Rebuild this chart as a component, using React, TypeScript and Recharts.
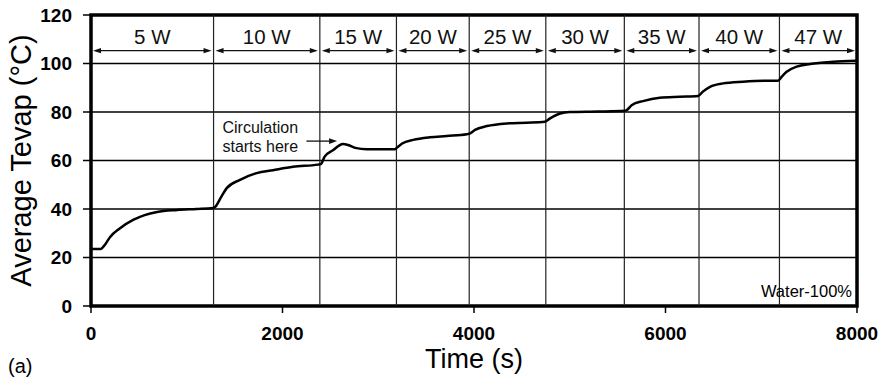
import { LineChart, Line, XAxis, YAxis, CartesianGrid, ReferenceLine, ReferenceArea } from 'recharts';

// time (s) and average evaporator temperature (°C)
const times = [
  0, 100, 150, 200, 300, 440, 560, 690, 900, 1100, 1275,
  1300, 1360, 1420, 1556, 1730, 1900, 2110, 2370, 2400,
  2440, 2530, 2630, 2685, 2760, 2880, 3170,
  3200, 3250, 3365, 3540, 3715, 3925,
  3960, 4010, 4135, 4345, 4550, 4740,
  4795, 4900, 5000, 5300, 5575,
  5595, 5650, 5765, 5940, 6150, 6340,
  6390, 6465, 6600, 6810, 7060, 7175,
  7215, 7265, 7370, 7510, 7750, 7990,
];
const avgTevap = [
  23.5, 23.5, 25.5, 28.5, 32, 35.5, 37.5, 38.8, 39.6, 40, 40.4,
  41, 45, 48.7, 52, 54.8, 56, 57.4, 58.3, 58.5,
  61.6, 64.3, 66.8, 66.4, 65.2, 64.6, 64.6,
  65.5, 67, 68.5, 69.6, 70.1, 70.8,
  71.2, 72.6, 74.2, 75.3, 75.6, 76,
  77.4, 79.4, 80, 80.2, 80.5,
  80.8, 82.9, 84.5, 85.9, 86.3, 86.6,
  88.4, 90.4, 91.8, 92.5, 92.9, 92.9,
  94.6, 96.6, 98.7, 99.8, 100.7, 101.1,
];

// heater power steps
const stepEdges = [0, 1280, 2390, 3190, 3950, 4750, 5570, 6350, 7190, 8000];
const stepLabels = ['5 W', '10 W', '15 W', '20 W', '25 W', '30 W', '35 W', '40 W', '47 W'];
const arrowLevel = 105.3;

// "Circulation starts here" pointer (time from / to, temperature)
const noteFrom = 2250;
const noteTo = 2570;
const noteLevel = 68;
const noteLines = ['Circulation', 'starts here'];

const xTicks = [0, 2000, 4000, 6000, 8000];
const yTicks = [0, 20, 40, 60, 80, 100, 120];

const data = times.map((t, i) => ({ t, v: avgTevap[i] }));

const FONT = "'Liberation Sans', Arial, Helvetica, sans-serif";
const tickStyle = { fill: '#000', fontSize: 19, fontWeight: 700, fontFamily: FONT };

function ArrowShape(props: any) {
  const { x1, y1, x2, text } = props;
  const a = x1 + 2;
  const b = x2 - 2;
  const y = y1;
  const h = 8;
  const w = 2.6;
  return (
    <g>
      <line x1={a + 3} y1={y} x2={b - 3} y2={y} stroke="#111" strokeWidth={1.2} />
      <polygon points={`${a},${y} ${a + h},${y - w} ${a + h},${y + w}`} fill="#111" />
      <polygon points={`${b},${y} ${b - h},${y - w} ${b - h},${y + w}`} fill="#111" />
      <text x={(x1 + x2) / 2} y={y - 7} textAnchor="middle" fontFamily={FONT} fontSize={20.5} fill="#111">
        {text}
      </text>
    </g>
  );
}

function NoteShape(props: any) {
  const { x1, y1, x2 } = props;
  const y = y1;
  return (
    <g>
      <line x1={x1} y1={y} x2={x2 - 6} y2={y} stroke="#111" strokeWidth={1.3} />
      <polygon points={`${x2},${y} ${x2 - 8},${y - 2.8} ${x2 - 8},${y + 2.8}`} fill="#111" />
      <text x={x1 - 84} y={y - 8} fontFamily={FONT} fontSize={16} fill="#111">{noteLines[0]}</text>
      <text x={x1 - 84} y={y + 11} fontFamily={FONT} fontSize={16} fill="#111">{noteLines[1]}</text>
    </g>
  );
}

export default function App() {
  return (
    <div style={{ position: 'absolute', left: 0, top: 0, width: 884, height: 377, background: '#fff', fontFamily: FONT }}>
      <LineChart width={884} height={377} data={data} margin={{ top: 15, right: 27, left: 0, bottom: 0 }}>
        <CartesianGrid vertical={false} stroke="#000" strokeWidth={1.6} />
        <XAxis
          dataKey="t"
          type="number"
          domain={[0, 8000]}
          ticks={xTicks}
          height={71}
          axisLine={false}
          tickLine={{ stroke: '#000', strokeWidth: 1.5 }}
          tickSize={7}
          tickMargin={14}
          tick={tickStyle}
          label={{ value: 'Time (s)', position: 'insideBottom', offset: 9, style: { fontSize: 27, fill: '#000', fontFamily: FONT } }}
        />
        <YAxis
          type="number"
          domain={[0, 120]}
          ticks={yTicks}
          width={91}
          axisLine={false}
          tickLine={{ stroke: '#000', strokeWidth: 1.5 }}
          tickSize={8}
          tickMargin={11}
          tick={tickStyle}
          label={{
            value: 'Average Tevap (°C)',
            angle: -90,
            position: 'insideLeft',
            offset: 21,
            style: { textAnchor: 'middle', fontSize: 29, fill: '#000', fontFamily: FONT },
          }}
        />
        {stepEdges.slice(1, -1).map((t) => (
          <ReferenceLine key={t} x={t} stroke="#222" strokeWidth={1.2} />
        ))}
        {stepLabels.map((lbl, i) => (
          <ReferenceLine
            key={lbl}
            segment={[
              { x: stepEdges[i], y: arrowLevel },
              { x: stepEdges[i + 1], y: arrowLevel },
            ]}
            shape={(p: any) => <ArrowShape {...p} text={lbl} />}
          />
        ))}
        <ReferenceLine
          segment={[
            { x: noteFrom, y: noteLevel },
            { x: noteTo, y: noteLevel },
          ]}
          shape={(p: any) => <NoteShape {...p} />}
        />
        <Line type="monotone" dataKey="v" stroke="#000" strokeWidth={2.5} dot={false} isAnimationActive={false} />
        <ReferenceArea
          x1={0}
          x2={8000}
          y1={0}
          y2={120}
          fill="none"
          fillOpacity={0}
          stroke="#000"
          strokeWidth={3.5}
          label={{ value: 'Water-100%', position: 'insideBottomRight', offset: 5, dy: -4, style: { fontSize: 16.5, fill: '#000', fontFamily: FONT } }}
        />
      </LineChart>
      <div style={{ position: 'absolute', left: 8, top: 355, fontSize: 20, color: '#000', lineHeight: '22px' }}>(a)</div>
    </div>
  );
}
